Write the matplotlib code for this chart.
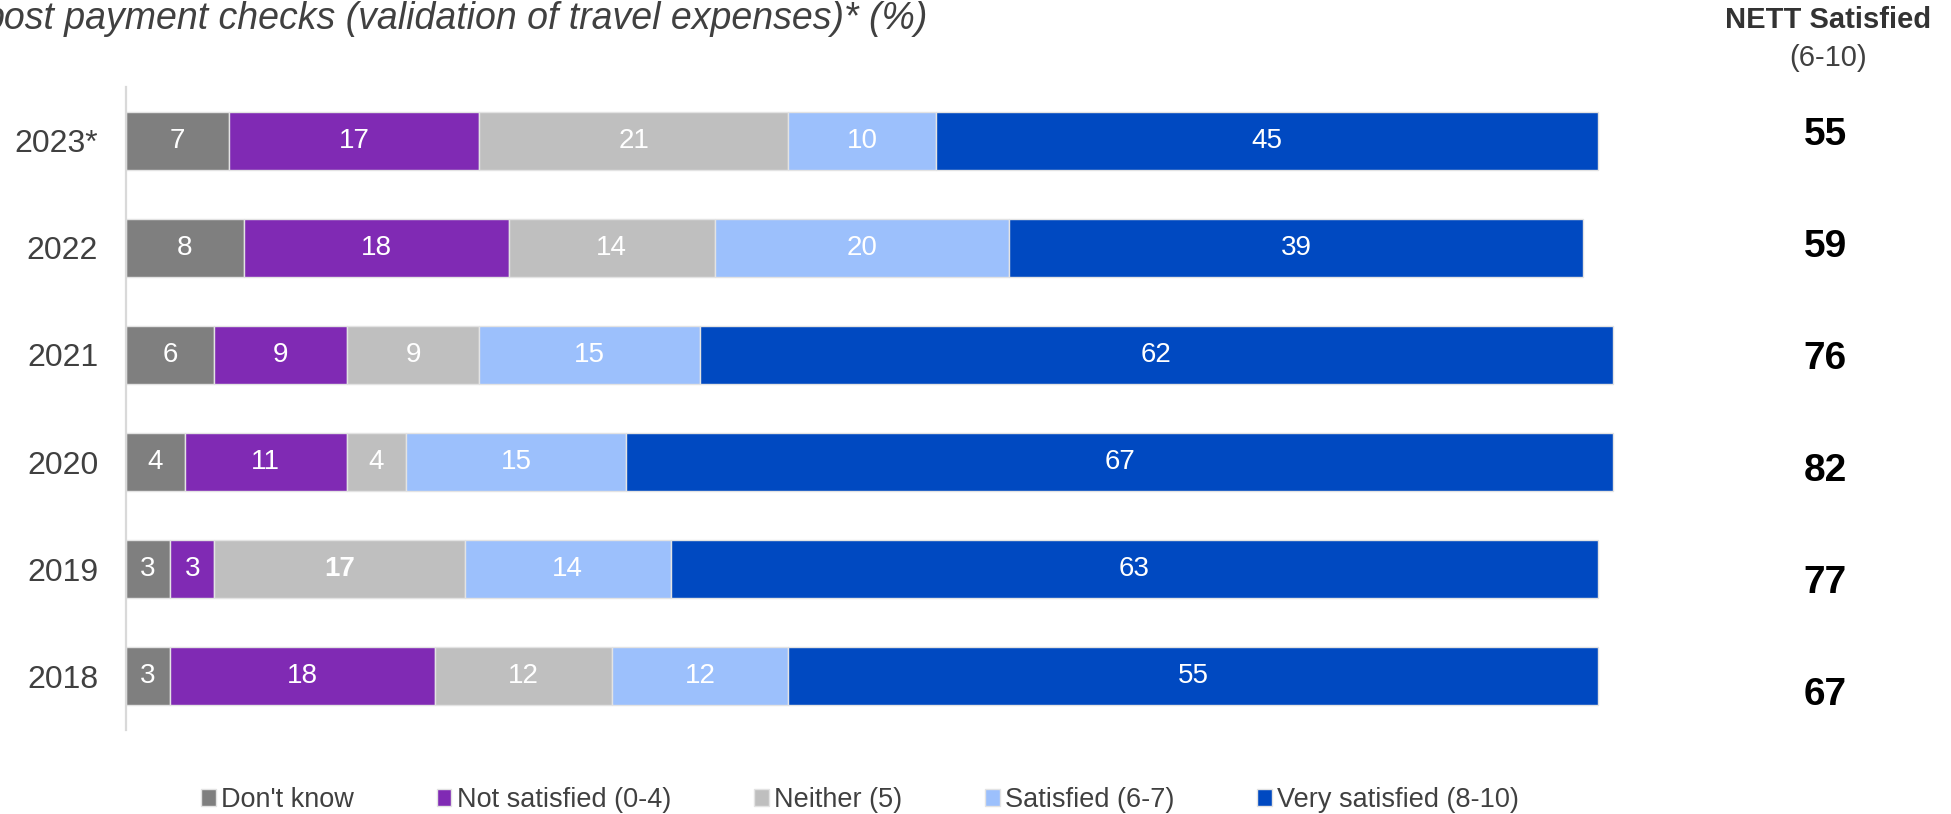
import matplotlib
matplotlib.use("Agg")
import matplotlib.pyplot as plt
import numpy as np

plt.rcParams["font.family"] = ["Liberation Sans", "DejaVu Sans"]

# survey results, one row per year (top to bottom), values in %
years = ["2023*", "2022", "2021", "2020", "2019", "2018"]
categories = ["Don't know", "Not satisfied (0-4)", "Neither (5)",
              "Satisfied (6-7)", "Very satisfied (8-10)"]
dont_know = [7, 8, 6, 4, 3, 3]
not_satisfied = [17, 18, 9, 11, 3, 18]
neither = [21, 14, 9, 4, 17, 12]
satisfied = [10, 20, 15, 15, 14, 12]
very_satisfied = [45, 39, 62, 67, 63, 55]
nett_satisfied = [55, 59, 76, 82, 77, 67]

# segment labels printed in bold (year, category)
bold_labels = [("2019", "Neither (5)")]

colors = ["#7f7f7f", "#802ab4", "#bfbfbf", "#9cc0fc", "#0049c1"]
TEXT = "#404040"

series = [dont_know, not_satisfied, neither, satisfied, very_satisfied]

fig = plt.figure(figsize=(19.51, 8.14), dpi=100)
ax = fig.add_axes([126 / 1951, 1 - 730 / 814, 102 * 14.72 / 1951, 643 / 814])

y = np.arange(len(years))
left = np.zeros(len(years))
for cat, vals, col in zip(categories, series, colors):
    vals = np.array(vals, dtype=float)
    ax.barh(y, vals, left=left, height=0.54, color=col, edgecolor="#e3e3e3",
            linewidth=1, label=cat)
    for i, v in enumerate(vals):
        weight = "bold" if (years[i], cat) in bold_labels else "normal"
        ax.text(left[i] + v / 2, y[i], f"{v:.0f}", ha="center", va="center",
                color="white", fontsize=20, fontweight=weight)
    left += vals

ax.set_xlim(0, 102)
ax.set_ylim(len(years) - 0.5, -0.5)
ax.set_yticks(y)
ax.set_yticklabels(years)
ax.tick_params(axis="y", length=0, pad=20, labelsize=23, labelcolor=TEXT)
ax.set_xticks([])
for side in ["top", "right", "bottom"]:
    ax.spines[side].set_visible(False)
ax.spines["left"].set_color("#d9d9d9")
ax.spines["left"].set_linewidth(1.6)

# title (runs off the left edge)
fig.text(928 / 1951, 1 - 19 / 814,
         "post payment checks (validation of travel expenses)* (%)",
         ha="right", va="center", fontsize=27, style="italic", color=TEXT)

# NETT column on the right
fig.text(1828 / 1951, 1 - 20 / 814, "NETT Satisfied", ha="center", va="center",
         fontsize=21, fontweight="bold", color="#333333")
fig.text(1828 / 1951, 1 - 58 / 814, "(6-10)", ha="center", va="center",
         fontsize=21, color=TEXT)
for i, n in enumerate(nett_satisfied):
    fig.text(1825 / 1951, 1 - (135 + i * 112) / 814, f"{n}", ha="center",
             va="center", fontsize=28, fontweight="bold", color="black")

handles, labels = ax.get_legend_handles_labels()
fig.legend(handles, labels, loc="center", bbox_to_anchor=(860 / 1951, 1 - 800 / 814),
           ncol=5, frameon=False, fontsize=19.5, handlelength=0.55,
           handleheight=0.55, handletextpad=0.2, columnspacing=3.05,
           labelcolor=TEXT)

fig.savefig("out.png", dpi=100)
